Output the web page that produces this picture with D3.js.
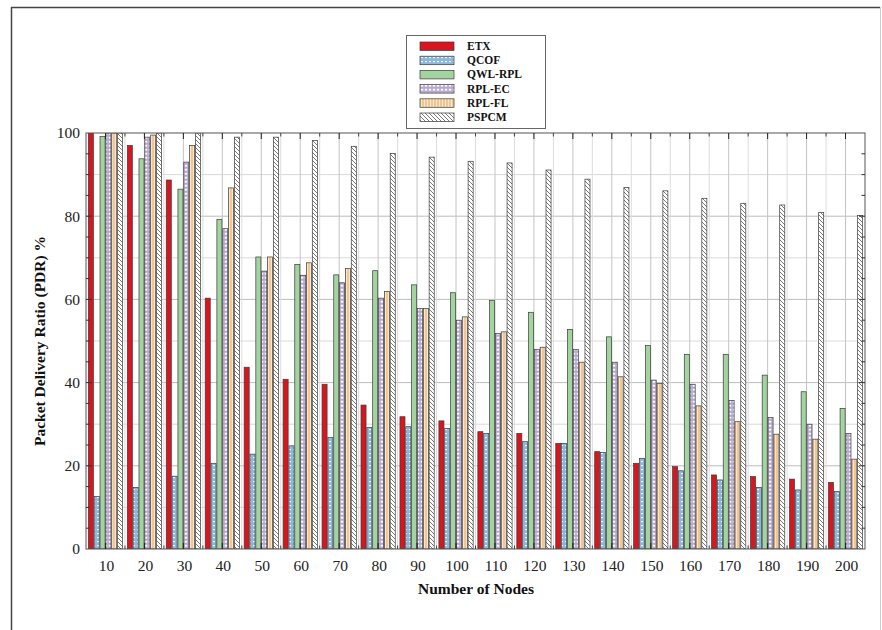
<!DOCTYPE html>
<html><head><meta charset="utf-8">
<script src="https://cdn.jsdelivr.net/npm/d3@7"></script>
<style>
body{margin:0;background:#fff;}
svg{display:block;}
</style></head>
<body>
<svg id="chart" width="882" height="630"></svg>
<script>
const categories = ["10","20","30","40","50","60","70","80","90","100","110","120","130","140","150","160","170","180","190","200"];
const seriesNames = ["ETX","QCOF","QWL-RPL","RPL-EC","RPL-FL","PSPCM"];
const ETX     = [100,97,88.7,60.3,43.7,40.8,39.6,34.6,31.8,30.8,28.2,27.8,25.4,23.4,20.6,19.8,17.8,17.4,16.8,16.0];
const QCOF    = [12.6,14.8,17.5,20.6,22.8,24.8,26.8,29.2,29.4,29.0,27.8,25.8,25.4,23.2,21.8,18.8,16.6,14.8,14.2,13.8];
const QWL_RPL = [99.2,93.8,86.5,79.2,70.2,68.4,65.9,66.9,63.5,61.6,59.7,56.9,52.8,51.0,48.9,46.8,46.8,41.8,37.8,33.8];
const RPL_EC  = [100,99.0,93.0,77.0,66.8,65.8,64.0,60.3,57.8,55.0,51.8,48.0,48.0,44.9,40.6,39.6,35.7,31.6,30.0,27.8];
const RPL_FL  = [100,99.5,97.0,86.8,70.2,68.8,67.4,61.9,57.8,55.8,52.2,48.5,44.9,41.4,39.8,34.4,30.6,27.6,26.4,21.6];
const PSPCM   = [100,100,100,99.0,99.0,98.2,96.8,95.1,94.2,93.2,92.8,91.1,88.9,86.9,86.1,84.3,83.1,82.7,80.9,80.2];
const yTicks = [0,20,40,60,80,100];

const seriesData = [ETX, QCOF, QWL_RPL, RPL_EC, RPL_FL, PSPCM];

const svg = d3.select("#chart");
const W = 882, H = 630;
const m = {left:86, right:882-865, top:133, bottom:630-549};
const pw = W - m.left - m.right, ph = H - m.top - m.bottom;

// outer frame
svg.append("line").attr("x1",11).attr("x2",880).attr("y1",7.5).attr("y2",7.5).attr("stroke","#444").attr("stroke-width",1.5);
svg.append("line").attr("x1",11.5).attr("x2",11.5).attr("y1",7).attr("y2",630).attr("stroke","#444").attr("stroke-width",1.5);
svg.append("line").attr("x1",880.5).attr("x2",880.5).attr("y1",7).attr("y2",630).attr("stroke","#ccc").attr("stroke-width",1);

// patterns
const defs = svg.append("defs");
function pat(id, w, h, draw){
  const p = defs.append("pattern").attr("id",id).attr("patternUnits","userSpaceOnUse").attr("width",w).attr("height",h);
  draw(p);
}
pat("pQCOF",4,4,p=>{
  p.append("rect").attr("width",4).attr("height",4).attr("fill","#8db7dc");
  p.append("rect").attr("x",1).attr("y",1).attr("width",2).attr("height",1.2).attr("fill","#eef6fb");
});
pat("pEC",4,4,p=>{
  p.append("rect").attr("width",4).attr("height",4).attr("fill","#b9a8d2");
  p.append("rect").attr("x",0.8).attr("y",0.8).attr("width",2.4).attr("height",1.8).attr("fill","#ffffff");
});
pat("pFL",3,4,p=>{
  p.append("rect").attr("width",3).attr("height",4).attr("fill","#f1c693");
  p.append("rect").attr("x",1).attr("width",1).attr("height",4).attr("fill","#fbe7cf");
});
pat("pPS",4,4,p=>{
  p.append("rect").attr("width",4).attr("height",4).attr("fill","#ffffff");
  p.append("path").attr("d","M-1,3 L1,5 M0,0 L4,4 M3,-1 L5,1").attr("stroke","#7a7a7a").attr("stroke-width",1);
});
const fills = ["#d7161f","url(#pQCOF)","#a3d4a0","url(#pEC)","url(#pFL)","url(#pPS)"];

const x = d3.scaleBand().domain(categories).range([m.left, m.left+pw]).paddingInner(0.1).paddingOuter(0.05);
const xs = d3.scaleBand().domain(seriesNames).range([0, x.bandwidth()]).padding(0);
const y = d3.scaleLinear().domain([0,100]).range([m.top+ph, m.top]);

const step = x.step();
const centers = categories.map(c => x(c) + x.bandwidth()/2);
const bounds = [m.left].concat(categories.map(c => x(c) + x.bandwidth()/2 + step/2));

// gridlines
const g = svg.append("g");
d3.range(10,100,10).forEach(v=>{
  g.append("line").attr("x1",m.left).attr("x2",m.left+pw).attr("y1",y(v)).attr("y2",y(v))
   .attr("stroke", v%20===0 ? "#bdbdbd" : "#dadada").attr("stroke-width",1);
});
centers.forEach(cx=>{
  g.append("line").attr("x1",cx).attr("x2",cx).attr("y1",m.top).attr("y2",m.top+ph).attr("stroke","#c4c4c4");
});
bounds.slice(1,-1).forEach(bx=>{
  g.append("line").attr("x1",bx).attr("x2",bx).attr("y1",m.top).attr("y2",m.top+ph).attr("stroke","#dcdcdc");
});

// clip
defs.append("clipPath").attr("id","plotclip").append("rect").attr("x",m.left).attr("y",m.top).attr("width",pw).attr("height",ph);

// bars
const barsG = svg.append("g").attr("clip-path","url(#plotclip)");
seriesNames.forEach((s,si)=>{
  barsG.selectAll(null).data(categories).enter().append("rect")
    .attr("x", c => x(c) + xs(s) + 0.4)
    .attr("y", (c,i) => y(seriesData[si][i]))
    .attr("width", xs.bandwidth() - 0.8)
    .attr("height", (c,i) => y(0) - y(seriesData[si][i]))
    .attr("fill", fills[si])
    .attr("stroke", "#3a3a3a").attr("stroke-width", 0.7);
});

// axes box
const ax = svg.append("g");
ax.append("rect").attr("x",m.left).attr("y",m.top).attr("width",pw).attr("height",ph)
  .attr("fill","none").attr("stroke","#555").attr("stroke-width",1);

// ticks inward
centers.forEach(cx=>{
  ax.append("line").attr("x1",cx).attr("x2",cx).attr("y1",m.top+ph).attr("y2",m.top+ph-6).attr("stroke","#222");
  ax.append("line").attr("x1",cx).attr("x2",cx).attr("y1",m.top).attr("y2",m.top+6).attr("stroke","#222");
});
bounds.slice(1,-1).forEach(bx=>{
  ax.append("line").attr("x1",bx).attr("x2",bx).attr("y1",m.top+ph).attr("y2",m.top+ph-3.5).attr("stroke","#444");
  ax.append("line").attr("x1",bx).attr("x2",bx).attr("y1",m.top).attr("y2",m.top+3.5).attr("stroke","#444");
});
d3.range(5,100,5).forEach(v=>{
  const len = v%20===0 ? 6 : 3.5;
  ax.append("line").attr("x1",m.left).attr("x2",m.left+len).attr("y1",y(v)).attr("y2",y(v)).attr("stroke","#333");
  ax.append("line").attr("x1",m.left+pw).attr("x2",m.left+pw-len).attr("y1",y(v)).attr("y2",y(v)).attr("stroke","#333");
});

// tick labels
const font = "'Liberation Serif','Times New Roman',serif";
yTicks.forEach(v=>{
  ax.append("text").attr("x",m.left-6).attr("y",y(v)).attr("dy","0.35em")
    .attr("text-anchor","end").attr("font-family",font).attr("font-size",15.5).attr("fill","#222").text(v);
});
categories.forEach((c,i)=>{
  ax.append("text").attr("x",centers[i]+1).attr("y",m.top+ph+22)
    .attr("text-anchor","middle").attr("font-family",font).attr("font-size",15.5).attr("fill","#222").text(c);
});

// axis titles
svg.append("text").attr("x",476).attr("y",594).attr("text-anchor","middle")
  .attr("font-family",font).attr("font-weight","bold").attr("font-size",15.5).attr("fill","#111").text("Number of Nodes");
svg.append("text").attr("transform","translate(45,341) rotate(-90)").attr("text-anchor","middle")
  .attr("font-family",font).attr("font-weight","bold").attr("font-size",15.5).attr("fill","#111").text("Packet Delivery Ratio (PDR) %");

// legend
const lg = svg.append("g");
lg.append("rect").attr("x",406.5).attr("y",35.5).attr("width",139).attr("height",93)
  .attr("fill","#fff").attr("stroke","#666").attr("stroke-width",1);
seriesNames.forEach((s,i)=>{
  const ly = 46 + i*14.2;
  lg.append("rect").attr("x",420).attr("y",ly-4).attr("width",34).attr("height",8.5)
    .attr("fill",fills[i]).attr("stroke","#3a3a3a").attr("stroke-width",0.7);
  lg.append("text").attr("x",467).attr("y",ly).attr("dy","0.35em")
    .attr("font-family",font).attr("font-weight","bold").attr("font-size",11.5).attr("fill","#111").text(s);
});
</script>
</body></html>
